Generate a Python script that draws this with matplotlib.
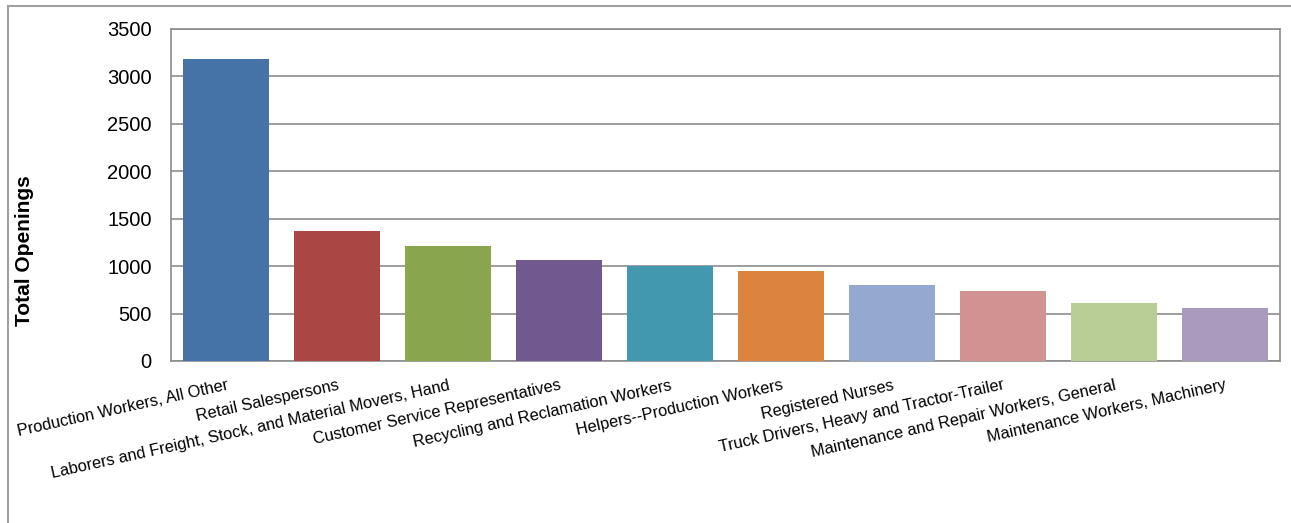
import matplotlib
matplotlib.use('Agg')
import matplotlib.pyplot as plt
from matplotlib.lines import Line2D

# occupations and their total openings
occupations = [
    'Production Workers, All Other',
    'Retail Salespersons',
    'Laborers and Freight, Stock, and Material Movers, Hand',
    'Customer Service Representatives',
    'Recycling and Reclamation Workers',
    'Helpers--Production Workers',
    'Registered Nurses',
    'Truck Drivers, Heavy and Tractor-Trailer',
    'Maintenance and Repair Workers, General',
    'Maintenance Workers, Machinery',
]
openings = [3180, 1367, 1208, 1060, 997, 944, 798, 735, 608, 555]
y_ticks = [0, 500, 1000, 1500, 2000, 2500, 3000, 3500]

bar_colors = ['#4572A7', '#AA4643', '#89A54E', '#71588F', '#4198AF',
              '#DB843D', '#93A9CF', '#D19392', '#B9CD96', '#A99BBD']

plt.rcParams['font.family'] = ['Liberation Sans', 'DejaVu Sans']

fig = plt.figure(figsize=(12.91, 5.23), dpi=100)
ax = fig.add_axes([171 / 1291, 1 - 361 / 523, (1280 - 171) / 1291, (361 - 29) / 523])

x = list(range(len(occupations)))
ax.bar(x, openings, width=0.775, color=bar_colors, zorder=3)

ax.set_xlim(-0.5, len(occupations) - 0.5)
ax.set_ylim(0, 3500)
ax.set_yticks(y_ticks)
ax.set_yticklabels([str(v) for v in y_ticks], fontsize=14.5)
ax.set_xticks(x)
ax.set_xticklabels(occupations, fontsize=11.8, rotation=12.5,
                   ha='right', rotation_mode='anchor')

ax.tick_params(axis='y', length=0, pad=14)
ax.tick_params(axis='x', length=0, pad=12)

ax.grid(axis='y', color='#8c8c8c', linewidth=1.2, zorder=0)
for side in ['left', 'bottom', 'top', 'right']:
    ax.spines[side].set_color('#8c8c8c')
    ax.spines[side].set_linewidth(1.2)

ax.set_ylabel('Total Openings', fontsize=15, fontweight='bold')
ax.yaxis.set_label_coords(-(171 - 34) / 1109, (361 - 251) / 332)

# outer chart frame (top and left edges visible)
fig.add_artist(Line2D([8 / 1291, 1.0], [1 - 6 / 523, 1 - 6 / 523],
                      transform=fig.transFigure, color='#a0a0a0', linewidth=1.5))
fig.add_artist(Line2D([8 / 1291, 8 / 1291], [0.0, 1 - 6 / 523],
                      transform=fig.transFigure, color='#a0a0a0', linewidth=1.5))

fig.savefig('out.png', dpi=100, facecolor='white')
